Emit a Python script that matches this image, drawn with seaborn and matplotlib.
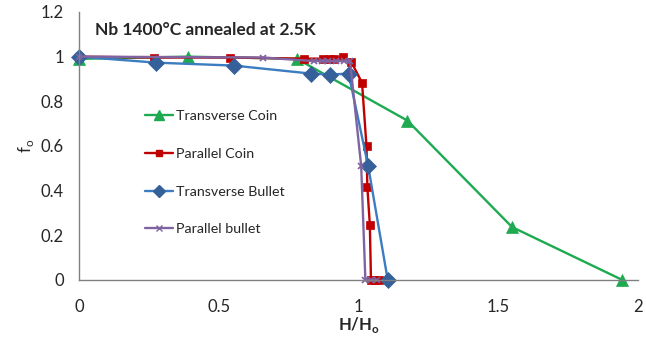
import matplotlib
matplotlib.use("Agg")
import matplotlib.pyplot as plt
import seaborn as sns
import pandas as pd
from matplotlib.lines import Line2D

# data
tc_x = [0.0, 0.39, 0.78, 1.175, 1.55, 1.945]
tc_y = [0.99, 1.0, 0.99, 0.714, 0.237, 0.0]

pc_x = [0.0, 0.27, 0.54, 0.807, 0.874, 0.898, 0.912, 0.944, 0.975, 1.013, 1.029, 1.032, 1.041, 1.045, 1.06, 1.075]
pc_y = [1.0, 0.996, 0.996, 0.991, 0.991, 0.991, 0.991, 0.997, 0.975, 0.883, 0.598, 0.417, 0.246, 0.0, 0.0, 0.0]

tb_x = [0.0, 0.277, 0.554, 0.83, 0.90, 0.965, 1.035, 1.105]
tb_y = [1.0, 0.973, 0.96, 0.924, 0.92, 0.924, 0.51, 0.0]

pb_x = [0.0, 0.66, 0.84, 0.87, 0.89, 0.92, 0.95, 0.97, 1.01, 1.025, 1.045, 1.065]
pb_y = [1.0, 0.996, 0.98, 0.98, 0.98, 0.98, 0.98, 0.98, 0.51, 0.0, 0.0, 0.0]

labels = ["Transverse Coin", "Parallel Coin", "Transverse Bullet", "Parallel bullet"]
xt = [0, 0.5, 1, 1.5, 2]
yt = [0, 0.2, 0.4, 0.6, 0.8, 1, 1.2]

sns.set_style("white")
plt.rcParams['font.family'] = ['Lato', 'DejaVu Sans']

fig = plt.figure(figsize=(6.46, 3.38), dpi=100)
ax = fig.add_axes([0.1223, 0.1716, 0.865, 0.793])

styles = [
    dict(color="#1DAA50", marker="^", ms=9, mfc="#1DAA50", mec="#1DAA50", lw=1.7),
    dict(color="#C00000", marker="s", ms=6, mfc="#C00000", mec="#C00000", lw=1.7),
    dict(color="#3C7CC0", marker="D", ms=8.5, mfc="#35609A", mec="#35609A", lw=1.7),
    dict(color="#8064A2", marker="x", ms=5, mfc="#8064A2", mec="#8064A2", lw=1.7),
]
series = [(tc_x, tc_y), (pc_x, pc_y), (tb_x, tb_y), (pb_x, pb_y)]

handles = []
for (xs, ys), lab, st in zip(series, labels, styles):
    df = pd.DataFrame({"x": xs, "y": ys})
    sns.lineplot(data=df, x="x", y="y", sort=False, ax=ax, estimator=None,
                 color=st["color"], marker=st["marker"], markersize=st["ms"],
                 markerfacecolor=st["mfc"], markeredgecolor=st["mec"],
                 markeredgewidth=1.2 if st["marker"] == "x" else 0.5,
                 linewidth=st["lw"], legend=False, clip_on=False)
    handles.append(Line2D([], [], color=st["color"], marker=st["marker"],
                          markersize=st["ms"] * 0.75, markerfacecolor=st["mfc"],
                          markeredgecolor=st["mec"], lw=st["lw"]))

ax.set_xlim(0, 2)
ax.set_ylim(0, 1.2)
ax.set_xticks(xt)
ax.set_xticklabels(["0", "0.5", "1", "1.5", "2"], fontsize=12)
ax.set_yticks(yt)
ax.set_yticklabels(["0", "0.2", "0.4", "0.6", "0.8", "1", "1.2"], fontsize=12)
ax.tick_params(axis="both", direction="out", length=5, width=1, color="#808080", pad=6)
ax.tick_params(axis="x", pad=9)
for s in ["top", "right"]:
    ax.spines[s].set_visible(False)
for s in ["left", "bottom"]:
    ax.spines[s].set_color("#808080")
    ax.spines[s].set_linewidth(1)

ax.set_xlabel(r"H/H$_\mathregular{o}$", fontsize=12, fontweight="bold", labelpad=0)
ax.set_ylabel(r"f$_\mathregular{o}$", fontsize=12, labelpad=3)

ax.text(0.028, 0.933, "Nb 1400°C annealed at 2.5K", transform=ax.transAxes,
        fontsize=12.5, fontweight="bold", va="center", ha="left")

ax.legend(handles, labels, loc="center left", bbox_to_anchor=(0.118, 0.40),
          frameon=False, fontsize=10.3, labelspacing=1.8, handlelength=1.95,
          handletextpad=0.2, borderpad=0, borderaxespad=0)

fig.savefig("out.png", dpi=100)
